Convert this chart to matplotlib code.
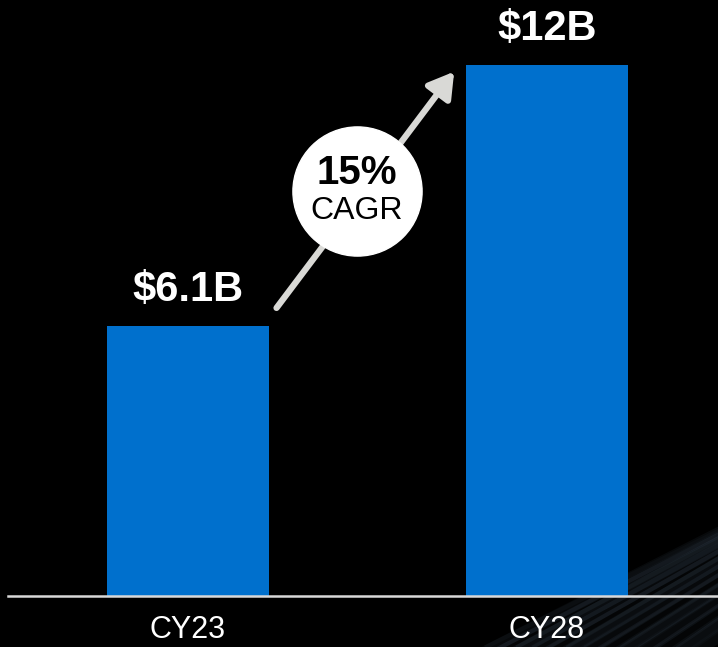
import numpy as np
import matplotlib.pyplot as plt
from matplotlib.patches import FancyArrowPatch

# market size by calendar year
years = ["CY23", "CY28"]
values = [6.1, 12.0]
value_labels = ["$6.1B", "$12B"]
cagr_label = "15%"

plt.rcParams['font.family'] = ['Liberation Sans', 'DejaVu Sans']

fig = plt.figure(figsize=(7.18, 6.47), dpi=100, facecolor='black')

# faint streaks in the lower right corner of the background
bg = fig.add_axes([0, 0, 1, 1], zorder=0)
bg.set_xlim(0, 718)
bg.set_ylim(647, 0)
bg.axis('off')
bg.set_facecolor('black')
t = np.linspace(0, 1, 60)
for i, off in enumerate(np.linspace(0, 1, 26)):
    x0 = 400 + off * 300
    xs = x0 + t * 340
    ys = 690 - t * (170 + off * 70) - off * 40
    bg.plot(xs, ys, color='#6a88a4', alpha=0.04 + 0.03 * (i % 3), lw=3 + 5 * (i % 2))

ax = fig.add_axes([8 / 718, 51 / 647, 710 / 718, 596 / 647], zorder=1)
ax.patch.set_alpha(0)

x = np.arange(len(years))
ax.bar(x, values, width=0.45, color='#0070cd', zorder=2)

for xi, v, lab in zip(x, values, value_labels):
    ax.text(xi, v + 0.82, lab, ha='center', va='center', color='white',
            fontsize=30, fontweight='bold')

ax.set_xlim(-0.501, 1.476)
ax.set_ylim(0, 13.47)
ax.set_xticks(x)
ax.set_xticklabels(years, color='white', fontsize=22)
ax.tick_params(axis='x', length=0, pad=14)
ax.set_yticks([])
for side in ['top', 'left', 'right']:
    ax.spines[side].set_visible(False)
ax.spines['bottom'].set_color('#d9d9d9')
ax.spines['bottom'].set_linewidth(1.8)

# growth arrow between the two bars
arrow = FancyArrowPatch((0.242, 6.46), (0.746, 11.9), arrowstyle='-|>,head_length=15,head_width=9',
                        color='#d9d9d6', lw=4.5, mutation_scale=1, zorder=3)
ax.add_patch(arrow)

# CAGR badge
ax.plot([0.471], [9.15], marker='o', markersize=93, color='white', zorder=4)
ax.text(0.471, 9.56, cagr_label, ha='center', va='center', color='black',
        fontsize=29, fontweight='bold', zorder=5)
ax.text(0.471, 8.70, "CAGR", ha='center', va='center', color='black',
        fontsize=23, zorder=5)

fig.savefig('out.png', dpi=100, facecolor='black')
